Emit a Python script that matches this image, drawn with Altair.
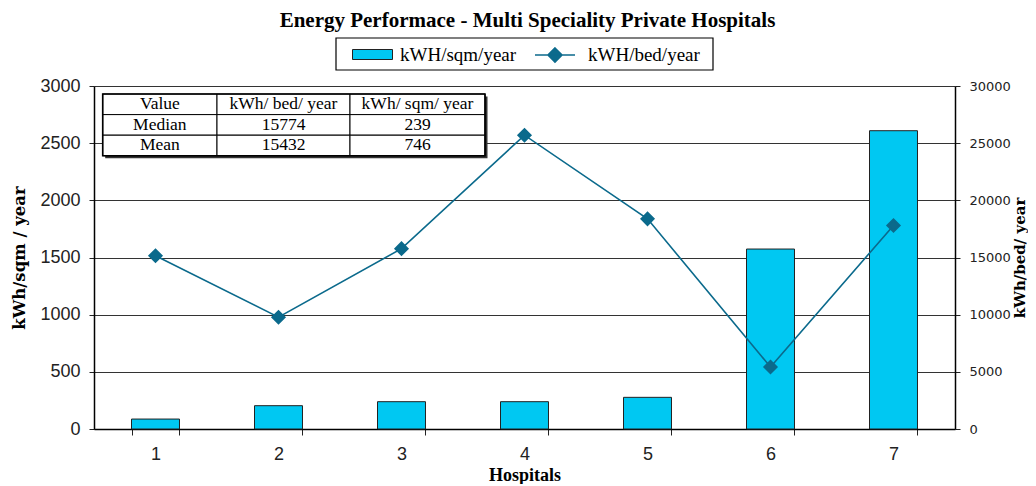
import altair as alt
import pandas as pd

# ---------------- data ----------------
hospitals = ["1", "2", "3", "4", "5", "6", "7"]
kwh_per_sqm = [87, 204, 239, 239, 277, 1574, 2609]
kwh_per_bed = [15150, 9780, 15774, 25700, 18380, 5420, 17800]
series_sqm = "kWH/sqm/year"
series_bed = "kWH/bed/year"

left_ticks = [0, 500, 1000, 1500, 2000, 2500, 3000]
right_ticks = [0, 5000, 10000, 15000, 20000, 25000, 30000]

table_header = ["Value", "kWh/ bed/ year", "kWh/ sqm/ year"]
table_median = ["Median", "15774", "239"]
table_mean = ["Mean", "15432", "746"]

chart_title = "Energy Performace - Multi Speciality Private Hospitals"

# ---------------- layout / style ----------------
W, H = 861, 343
col_edges = [8.7, 123, 256, 391]
row_edges = [8, 28.6, 49.2, 69.7]
legend_box = [242, 619, -48, -16]

BAR = "#00C8F2"
LINE = "#0B6A8C"
SERIF = "Liberation Serif"
WIDE_SERIF = "DejaVu Serif"
SANS = "Liberation Sans"

df = pd.DataFrame({
    "Hospital": hospitals,
    "sqm": kwh_per_sqm,
    "bed": kwh_per_bed,
    "s_sqm": [series_sqm] * len(hospitals),
    "s_bed": [series_bed] * len(hospitals),
})

bars = alt.Chart(df).mark_bar(stroke="#222", strokeWidth=1).encode(
    x=alt.X("Hospital:O",
            scale=alt.Scale(paddingInner=0.61, paddingOuter=0.305),
            axis=alt.Axis(title="Hospitals", labelAngle=0, tickBand="extent",
                          domainColor="black", domainWidth=1.5, tickColor="#222",
                          tickSize=6, labelFont=SANS, labelFontSize=18,
                          labelColor="#222", labelPadding=10,
                          titleFont=SERIF, titleFontSize=18, titleFontWeight="bold",
                          titleColor="black", titlePadding=3)),
    y=alt.Y("sqm:Q",
            scale=alt.Scale(domain=[0, 3000], nice=False),
            axis=alt.Axis(orient="left", values=left_ticks, format="d",
                          title="kWh/sqm / year",
                          grid=True, gridColor="#333", gridWidth=1.2,
                          domainColor="black", domainWidth=1.5, tickColor="#222",
                          tickSize=5, labelFont=SANS, labelFontSize=18,
                          labelColor="#222", labelPadding=9,
                          titleFont=WIDE_SERIF, titleFontSize=16.5, titleFontWeight="bold",
                          titleColor="black", titlePadding=12)),
    fill=alt.Fill("s_sqm:N",
                  scale=alt.Scale(domain=[series_sqm], range=[BAR]),
                  legend=alt.Legend(title=None, orient="none",
                                    legendX=258, legendY=-52,
                                    symbolType="M-1,-0.25H1V0.25H-1Z",
                                    symbolSize=1600, symbolStrokeColor="#222",
                                    symbolStrokeWidth=1, labelFont=SERIF,
                                    labelFontSize=19, labelColor="black",
                                    labelOffset=7, padding=0)),
)

line = alt.Chart(df).mark_line(
    strokeWidth=1.6,
    point=alt.OverlayMarkDef(shape="diamond", size=150, filled=True, fill=LINE),
).encode(
    x=alt.X("Hospital:O", axis=None),
    y=alt.Y("bed:Q",
            scale=alt.Scale(domain=[0, 30000], nice=False),
            axis=alt.Axis(orient="right", values=right_ticks, format="d",
                          title="kWh/bed/ year",
                          grid=False, domainColor="black", domainWidth=1.5,
                          tickColor="#222", tickSize=5, labelFont="DejaVu Sans",
                          labelFontSize=13, labelColor="#222", labelPadding=9,
                          titleFont=WIDE_SERIF, titleFontSize=15, titleFontWeight="bold",
                          titleColor="black", titlePadding=2, titleAngle=270,
                          titleBaseline="top")),
    stroke=alt.Stroke("s_bed:N",
                      scale=alt.Scale(domain=[series_bed], range=[LINE]),
                      legend=alt.Legend(title=None, orient="none",
                                        legendX=440, legendY=-52,
                                        symbolType="M-1,0H1M0,-0.35L0.35,0L0,0.35L-0.35,0Z",
                                        symbolSize=1600, symbolStrokeWidth=1.6,
                                        symbolFillColor=LINE, labelFont=SERIF,
                                        labelFontSize=19, labelColor="black",
                                        labelOffset=12, padding=0)),
)

# ---------------- annotation: legend frame + stats table ----------------
rows = [table_header, table_median, table_mean]
cells = []
for r, row in enumerate(rows):
    for c, txt in enumerate(row):
        cells.append({
            "x0": col_edges[c], "x1": col_edges[c + 1],
            "y0": row_edges[r], "y1": row_edges[r + 1],
            "xc": (col_edges[c] + col_edges[c + 1]) / 2,
            "yc": (row_edges[r] + row_edges[r + 1]) / 2,
            "text": txt,
        })
cells_df = pd.DataFrame(cells)
outer_df = pd.DataFrame([{"x0": col_edges[0], "x1": col_edges[-1],
                          "y0": row_edges[0], "y1": row_edges[-1]}])
shadow_df = pd.DataFrame([{"x0": col_edges[0] + 2.5, "x1": col_edges[-1] + 2.5,
                           "y0": row_edges[0] + 2.5, "y1": row_edges[-1] + 2.5}])
frame_df = pd.DataFrame([{"x0": legend_box[0], "x1": legend_box[1],
                          "y0": legend_box[2], "y1": legend_box[3]}])

xs = alt.Scale(domain=[0, W], nice=False, zero=False)
ys = alt.Scale(domain=[0, H], nice=False, zero=False, reverse=True)


def rect_layer(data, **mark):
    return alt.Chart(data).mark_rect(**mark).encode(
        x=alt.X("x0:Q", scale=xs, axis=None), x2="x1:Q",
        y=alt.Y("y0:Q", scale=ys, axis=None), y2="y1:Q",
    )


frame = rect_layer(frame_df, fill="white", stroke="black", strokeWidth=1.2)
shadow = rect_layer(shadow_df, fill="#333")
cell_rects = rect_layer(cells_df, fill="white", stroke="black", strokeWidth=1)
outer = rect_layer(outer_df, stroke="black", strokeWidth=1.6, filled=False)
texts = alt.Chart(cells_df).mark_text(font=SERIF, fontSize=17.5, color="black",
                                      align="center", baseline="middle").encode(
    x=alt.X("xc:Q", scale=xs, axis=None),
    y=alt.Y("yc:Q", scale=ys, axis=None),
    text="text:N",
)
annot = alt.layer(frame, shadow, cell_rects, outer, texts)

chart = alt.layer(bars, line, annot).resolve_scale(
    x="independent", y="independent"
).properties(
    width=W, height=H,
    title=alt.TitleParams(chart_title, font=SERIF, fontSize=21, fontWeight="bold",
                          color="black", anchor="middle", frame="group", offset=3,
                          dx=3),
    padding={"left": 3, "right": 0, "top": 2, "bottom": 0},
).configure_view(
    fill="#D4D4D4", stroke=None
).configure(background="white")

chart.save("out.html", embed_options={"renderer": "svg", "actions": False})
